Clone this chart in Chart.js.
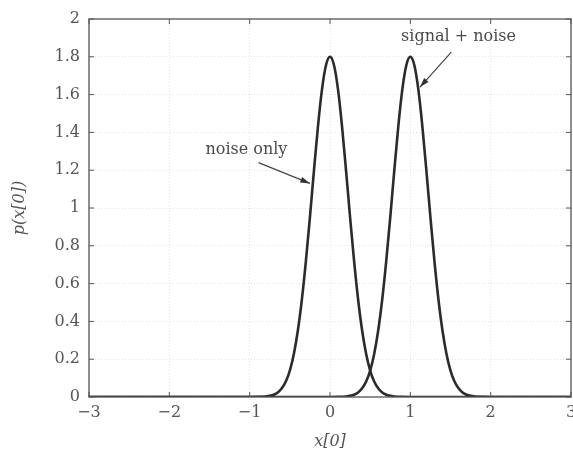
<!DOCTYPE html>
<html>
<head>
<meta charset="utf-8">
<script src="https://cdn.jsdelivr.net/npm/chart.js@4.4.1/dist/chart.umd.min.js"></script>
<style>
  html, body { margin: 0; padding: 0; background: #fff; }
  #wrap { width: 573px; height: 451px; }
</style>
</head>
<body>
<div id="wrap"><canvas id="pdfChart" width="573" height="451"></canvas></div>
<script>
// values
const noiseX = [-3, -1, -0.9, -0.8, -0.75, -0.7, -0.65, -0.6, -0.55, -0.5, -0.45, -0.4, -0.35, -0.3, -0.25, -0.2, -0.15, -0.1, -0.05, 0,
  0.05, 0.1, 0.15, 0.2, 0.25, 0.3, 0.35, 0.4, 0.45, 0.5, 0.55, 0.6, 0.65, 0.7, 0.75, 0.8, 0.9, 1, 3];
const noiseY = [0, 0, 0.0005, 0.003, 0.006, 0.012, 0.024, 0.046, 0.082, 0.14, 0.228, 0.352, 0.516, 0.719, 0.951, 1.197, 1.431, 1.626, 1.755, 1.8,
  1.755, 1.626, 1.431, 1.197, 0.951, 0.719, 0.516, 0.352, 0.228, 0.14, 0.082, 0.046, 0.024, 0.012, 0.006, 0.003, 0.0005, 0, 0];
const signalX = [-3, 0, 0.1, 0.2, 0.25, 0.3, 0.35, 0.4, 0.45, 0.5, 0.55, 0.6, 0.65, 0.7, 0.75, 0.8, 0.85, 0.9, 0.95, 1,
  1.05, 1.1, 1.15, 1.2, 1.25, 1.3, 1.35, 1.4, 1.45, 1.5, 1.55, 1.6, 1.65, 1.7, 1.75, 1.8, 1.9, 2, 3];
const signalY = [0, 0, 0.0005, 0.003, 0.006, 0.012, 0.024, 0.046, 0.082, 0.14, 0.228, 0.352, 0.516, 0.719, 0.951, 1.197, 1.431, 1.626, 1.755, 1.8,
  1.755, 1.626, 1.431, 1.197, 0.951, 0.719, 0.516, 0.352, 0.228, 0.14, 0.082, 0.046, 0.024, 0.012, 0.006, 0.003, 0.0005, 0, 0];

const xTicks = [-3, -2, -1, 0, 1, 2, 3];
const yTicks = [0, 0.2, 0.4, 0.6, 0.8, 1, 1.2, 1.4, 1.6, 1.8, 2];

// annotation text and arrow (data coords)
const notes = [
  { text: 'noise only', tx: -1.04, ty: 1.31, from: [-0.89, 1.24], to: [-0.25, 1.13] },
  { text: 'signal + noise', tx: 1.6, ty: 1.905, from: [1.51, 1.825], to: [1.12, 1.64] }
];

const serif = "'DejaVu Serif', 'Liberation Serif', serif";
const textColor = '#555';
const lineColor = '#2b2b2b';

function toPoints(xs, ys) {
  return xs.map((x, i) => ({ x: x, y: ys[i] }));
}

// frame, inward ticks and arrows
const extras = {
  id: 'extras',
  afterDatasetsDraw(chart) {
    const ctx = chart.ctx;
    const a = chart.chartArea;
    const sx = chart.scales.x, sy = chart.scales.y;
    ctx.save();
    ctx.strokeStyle = '#555';
    ctx.lineWidth = 1.3;
    ctx.strokeRect(a.left, a.top, a.right - a.left, a.bottom - a.top);
    ctx.lineWidth = 1;
    xTicks.forEach(v => {
      const px = sx.getPixelForValue(v);
      ctx.beginPath();
      ctx.moveTo(px, a.bottom); ctx.lineTo(px, a.bottom - 5);
      ctx.moveTo(px, a.top); ctx.lineTo(px, a.top + 5);
      ctx.stroke();
    });
    yTicks.forEach(v => {
      const py = sy.getPixelForValue(v);
      ctx.beginPath();
      ctx.moveTo(a.left, py); ctx.lineTo(a.left + 5, py);
      ctx.moveTo(a.right, py); ctx.lineTo(a.right - 5, py);
      ctx.stroke();
    });

    notes.forEach(n => {
      ctx.fillStyle = '#4a4a4a';
      ctx.font = '16px ' + serif;
      ctx.textAlign = 'center';
      ctx.textBaseline = 'middle';
      ctx.fillText(n.text, sx.getPixelForValue(n.tx), sy.getPixelForValue(n.ty));

      const x1 = sx.getPixelForValue(n.from[0]), y1 = sy.getPixelForValue(n.from[1]);
      const x2 = sx.getPixelForValue(n.to[0]), y2 = sy.getPixelForValue(n.to[1]);
      ctx.strokeStyle = '#444';
      ctx.lineWidth = 1.2;
      ctx.beginPath();
      ctx.moveTo(x1, y1); ctx.lineTo(x2, y2);
      ctx.stroke();
      const ang = Math.atan2(y2 - y1, x2 - x1);
      const len = 10, half = 0.3;
      ctx.fillStyle = '#333';
      ctx.beginPath();
      ctx.moveTo(x2, y2);
      ctx.lineTo(x2 - len * Math.cos(ang - half), y2 - len * Math.sin(ang - half));
      ctx.lineTo(x2 - len * Math.cos(ang + half), y2 - len * Math.sin(ang + half));
      ctx.closePath();
      ctx.fill();
    });
    ctx.restore();
  }
};

const ctx = document.getElementById('pdfChart').getContext('2d');
new Chart(ctx, {
  type: 'line',
  data: {
    datasets: [{
      label: 'noise only',
      data: toPoints(noiseX, noiseY),
      borderColor: lineColor,
      borderWidth: 2.6,
      pointRadius: 0,
      cubicInterpolationMode: 'monotone',
      fill: false
    }, {
      label: 'signal + noise',
      data: toPoints(signalX, signalY),
      borderColor: lineColor,
      borderWidth: 2.6,
      pointRadius: 0,
      cubicInterpolationMode: 'monotone',
      fill: false
    }]
  },
  options: {
    responsive: false,
    animation: false,
    layout: { padding: { top: 19, right: 2, left: 0, bottom: 0 } },
    plugins: {
      legend: { display: false },
      tooltip: { enabled: false }
    },
    scales: {
      x: {
        type: 'linear',
        min: -3,
        max: 3,
        afterBuildTicks: scale => { scale.ticks = xTicks.map(v => ({ value: v })); },
        afterFit: scale => {
          scale.height = 54;
          scale.paddingLeft = 0;
          scale.paddingRight = 0;
        },
        ticks: {
          color: textColor,
          font: { family: serif, size: 16 },
          padding: 6,
          callback: v => (v < 0 ? '\u2212' + Math.abs(v) : String(v))
        },
        grid: { color: '#e2e2e2', drawTicks: false, tickLength: 0 },
        border: { display: false, dash: [1, 2] },
        title: {
          display: true,
          text: 'x[0]',
          color: textColor,
          font: { family: serif, size: 16, style: 'italic' },
          padding: { top: 6, bottom: 0 }
        }
      },
      y: {
        min: 0,
        max: 2,
        afterBuildTicks: scale => { scale.ticks = yTicks.map(v => ({ value: v })); },
        afterFit: scale => { scale.width = 89; },
        ticks: {
          color: textColor,
          font: { family: serif, size: 16 },
          padding: 9,
          callback: v => String(Math.round(v * 10) / 10)
        },
        grid: { color: '#e2e2e2', drawTicks: false, tickLength: 0 },
        border: { display: false, dash: [1, 2] },
        title: {
          display: true,
          text: 'p(x[0])',
          color: textColor,
          font: { family: serif, size: 16, style: 'italic' },
          padding: { top: 10, bottom: 0 }
        }
      }
    }
  },
  plugins: [extras]
});
</script>
</body>
</html>
